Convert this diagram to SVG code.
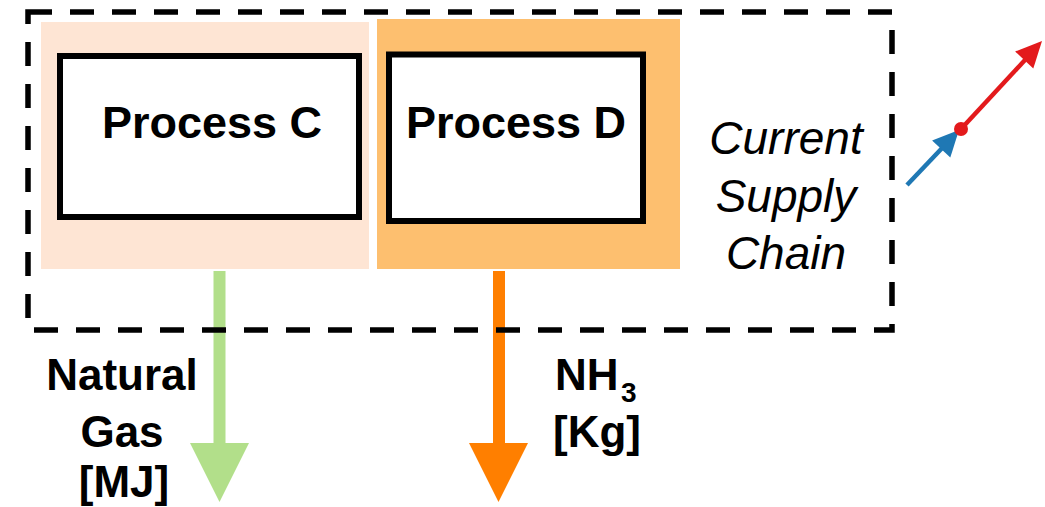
<svg xmlns="http://www.w3.org/2000/svg" width="1045" height="507" viewBox="0 0 1045 507">
  <style>
    .box { fill: #ffffff; stroke: #000000; stroke-width: 6; }
    .lbl { font-family: "Liberation Sans", Arial, sans-serif; font-weight: bold; font-size: 44px; fill: #000000; text-anchor: middle; }
    .big { font-size: 45px; }
    .ital { font-family: "Liberation Sans", Arial, sans-serif; font-style: italic; font-size: 46px; fill: #000000; text-anchor: middle; }
    .border { fill: none; stroke: #000000; stroke-width: 5.5; stroke-dasharray: 24 18; }
  </style>
  <rect width="1045" height="507" fill="#ffffff"/>
  <g id="panels">
    <rect x="41" y="22" width="328" height="247" fill="#FEE5D4"/>
    <rect x="377" y="19" width="303" height="250" fill="#FDBF6F"/>
  </g>
  <g id="connectors">
    <rect x="213.5" y="271" width="12" height="173" fill="#B2DF8A"/>
    <polygon points="190,443 249,443 219.5,502" fill="#B2DF8A"/>
    <rect x="493" y="271" width="12" height="173" fill="#FF7F00"/>
    <polygon points="469,443 528,443 498.5,502" fill="#FF7F00"/>
    <line x1="907" y1="185" x2="945" y2="145" stroke="#1F78B4" stroke-width="4.5"/>
    <polygon points="959,130 950.3,157.5 932.1,140.5" fill="#1F78B4"/>
    <line x1="961" y1="129" x2="1025" y2="60" stroke="#E31A1C" stroke-width="4.5"/>
    <polygon points="1042,41 1033.3,68.5 1015.1,51.5" fill="#E31A1C"/>
    <circle cx="961" cy="129" r="7" fill="#E31A1C"/>
  </g>
  <g id="supply-chain">
    <rect class="border" x="28" y="12" width="864" height="318"/>
    <text class="ital" x="786" y="154">Current</text>
    <text class="ital" x="786" y="212">Supply</text>
    <text class="ital" x="786" y="269">Chain</text>
  </g>
  <g id="process-c">
    <rect class="box" x="60" y="56" width="299" height="161"/>
    <text class="lbl big" x="212" y="138">Process C</text>
  </g>
  <g id="process-d">
    <rect class="box" x="389" y="54.5" width="254" height="166.5"/>
    <text class="lbl big" x="516" y="138">Process D</text>
  </g>
  <g id="label-natural-gas">
    <text class="lbl" x="122" y="390">Natural</text>
    <text class="lbl" x="122" y="447">Gas</text>
    <text class="lbl" x="124" y="497">[MJ]</text>
  </g>
  <g id="label-nh3">
    <text class="lbl" x="555" y="390" style="text-anchor:start">NH</text>
    <text class="lbl" x="621" y="402" style="text-anchor:start;font-size:28px">3</text>
    <text class="lbl" x="597" y="447">[Kg]</text>
  </g>
</svg>
